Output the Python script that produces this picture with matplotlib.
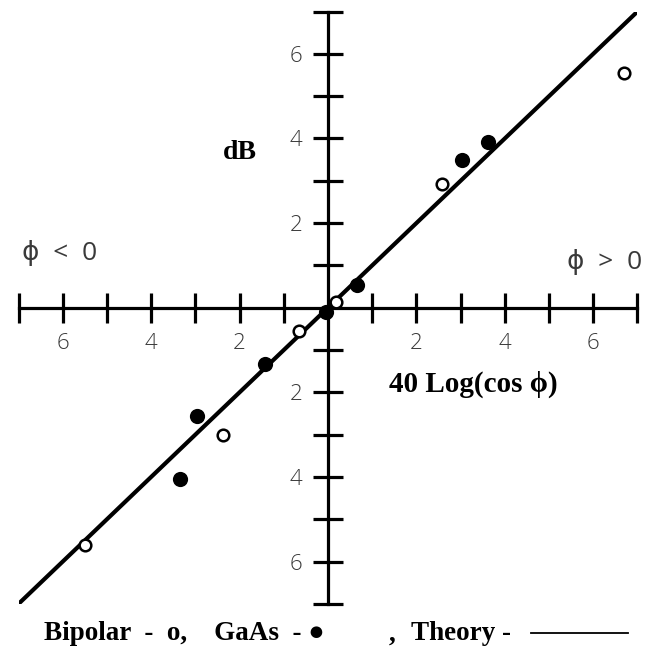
import matplotlib
matplotlib.use("Agg")
import matplotlib.pyplot as plt
from matplotlib.lines import Line2D
from matplotlib.ticker import FixedLocator, FuncFormatter

# Measured gain change (dB) versus 40 Log(cos phi)
bipolar_x = [-5.50, -2.37, -0.65, 0.19, 2.57, 6.70]
bipolar_y = [-5.62, -3.01, -0.55, 0.13, 2.92, 5.54]

gaas_x = [-3.35, -2.97, -1.43, -0.05, 0.65, 3.04, 3.61]
gaas_y = [-4.05, -2.55, -1.33, -0.09, 0.54, 3.48, 3.92]

# Theory: dB change equals 40 Log(cos phi)
theory_x = [-7.0, 7.0]
theory_y = [-7.0, 7.0]

tick_values = [-7, -6, -5, -4, -3, -2, -1, 1, 2, 3, 4, 5, 6, 7]
labelled = [-6, -4, -2, 2, 4, 6]

sans = ["Open Sans", "DejaVu Sans"]
serif = ["Liberation Serif", "DejaVu Serif"]

W, H = 645, 652
fig = plt.figure(figsize=(W / 100, H / 100), dpi=100)
ax = fig.add_axes([18.6 / W, (H - 603.8) / H, 618.8 / W, 592.2 / H])
ax.set_xlim(-7, 7)
ax.set_ylim(-7, 7)

for s in ("top", "right"):
    ax.spines[s].set_visible(False)
for s in ("left", "bottom"):
    ax.spines[s].set_position(("data", 0))
    ax.spines[s].set_linewidth(2.3)
    ax.spines[s].set_color("black")

ax.xaxis.set_major_locator(FixedLocator(tick_values))
ax.yaxis.set_major_locator(FixedLocator(tick_values))
fmt = FuncFormatter(lambda v, p: f"{abs(int(round(v)))}" if int(round(v)) in labelled else "")
ax.xaxis.set_major_formatter(fmt)
ax.yaxis.set_major_formatter(fmt)
ax.tick_params(axis="both", direction="inout", length=21, width=2.3, color="black",
               labelsize=16, labelcolor="#3a3a3a")
ax.tick_params(axis="x", pad=8)
ax.tick_params(axis="y", pad=8)
for lab in ax.get_xticklabels() + ax.get_yticklabels():
    lab.set_fontfamily(sans)
    lab.set_fontweight("light")

ax.plot(theory_x, theory_y, color="black", lw=3.0, solid_capstyle="butt", zorder=3)
ax.scatter(gaas_x, gaas_y, s=120, color="black", zorder=4, linewidths=0)
ax.scatter(bipolar_x, bipolar_y, s=70, facecolor="white", edgecolor="black",
           linewidths=1.8, zorder=5)

ax.text(-2.0, 3.66, "dB", fontsize=20, fontweight="bold", family=serif,
        ha="center", va="center")
ax.text(3.28, -1.80, "40 Log(cos \u03d5)", fontsize=21, fontweight="bold", family=serif,
        ha="center", va="center")

ax.text(-6.93, 1.30, "\u03d5  <  0", fontsize=19, family=sans, color="#3a3a3a",
        ha="left", va="center")
ax.text(7.1, 1.08, "\u03d5  >  0", fontsize=19, family=sans, color="#3a3a3a",
        ha="right", va="center")

# Key along the bottom
ky = 1 - 634 / H
fig.text(44 / W, ky, "Bipolar  -  o,    GaAs  - \u25cf", fontsize=19.5,
         fontweight="bold", family=serif, ha="left", va="center")
fig.text(389 / W, ky, ",", fontsize=19.5,
         fontweight="bold", family=serif, ha="left", va="center")
fig.text(411 / W, ky, "Theory -", fontsize=19.5,
         fontweight="bold", family=serif, ha="left", va="center")
fig.add_artist(Line2D([531 / W, 628 / W], [1 - 633 / H, 1 - 633 / H],
                      transform=fig.transFigure, color="black", lw=1.3))

fig.savefig("out.png", dpi=100, facecolor="white")
